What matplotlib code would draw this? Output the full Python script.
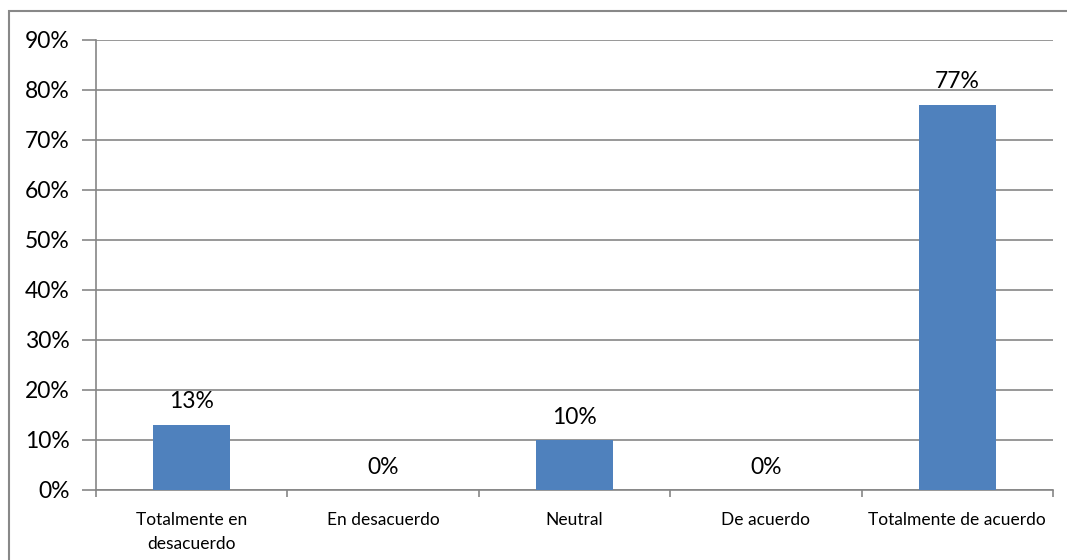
import matplotlib
matplotlib.use("Agg")
import matplotlib.pyplot as plt
from matplotlib.patches import Rectangle
from matplotlib.ticker import FuncFormatter

plt.rcParams['font.family'] = ['Lato', 'DejaVu Sans']

categories = ["Totalmente en\ndesacuerdo", "En desacuerdo", "Neutral",
              "De acuerdo", "Totalmente de acuerdo"]
values = [13, 0, 10, 0, 77]
y_ticks = [0, 10, 20, 30, 40, 50, 60, 70, 80, 90]

bar_color = "#4F81BD"
grid_color = "#868686"

fig = plt.figure(figsize=(10.67, 5.6), dpi=100)
ax = fig.add_axes([96 / 1067, 1 - 490 / 560, (1053 - 96) / 1067, 450 / 560])

# outer chart frame
fig.patches.append(Rectangle((9 / 1067, -0.1), 1.2, 1 - 11 / 560 + 0.1,
                             transform=fig.transFigure, fill=False,
                             edgecolor="#888888", linewidth=1.5, zorder=0))

x = list(range(len(categories)))
ax.bar(x, values, width=0.4, color=bar_color, zorder=3)
for xi, v in zip(x, values):
    ax.annotate(f"{v}%", (xi, v), xytext=(0, 9), textcoords="offset points",
                ha="center", va="bottom", fontsize=16.5, color="#000000")

ax.set_xlim(-0.5, len(categories) - 0.5)
ax.set_ylim(0, 90)
ax.set_yticks(y_ticks)
ax.yaxis.set_major_formatter(FuncFormatter(lambda v, p: f"{int(v)}%"))
ax.grid(axis="y", color=grid_color, linewidth=1.2, zorder=0)
ax.set_axisbelow(True)

ax.set_xticks(x)
ax.set_xticklabels(categories, fontsize=12.5, linespacing=1.6)
ax.set_xticks([i - 0.5 for i in range(len(categories) + 1)], minor=True)
ax.tick_params(axis="x", which="major", length=0, pad=16)
ax.tick_params(axis="x", which="minor", length=5, color=grid_color, width=1.2, direction="out")
ax.tick_params(axis="y", length=10, color=grid_color, width=1.2, labelsize=16.5, pad=9)

for side in ("top", "right"):
    ax.spines[side].set_visible(False)
for side in ("left", "bottom"):
    ax.spines[side].set_color(grid_color)
    ax.spines[side].set_linewidth(1.2)

fig.savefig("out.png", dpi=100)
